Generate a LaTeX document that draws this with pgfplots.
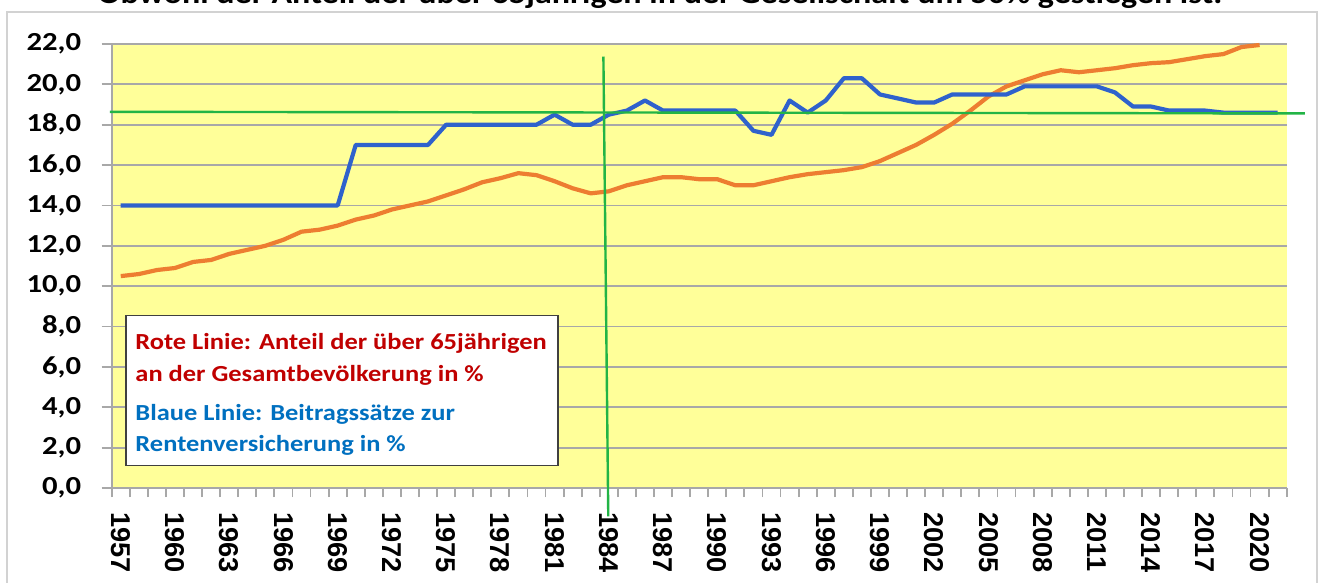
\documentclass[border=0pt]{standalone}
\usepackage{pgfplots}
\pgfplotsset{compat=1.18}
\usepackage{pgfplotstable}
\usepackage{fontspec}
\setmainfont{Carlito}
\newfontfamily\arialfont{Liberation Sans}

\definecolor{bgyellow}{RGB}{255,255,153}
\definecolor{gridgray}{RGB}{168,168,168}
\definecolor{framegray}{RGB}{210,210,210}
\definecolor{orangeline}{RGB}{237,125,49}
\definecolor{blueline}{RGB}{47,98,204}
\definecolor{greenline}{RGB}{34,180,70}
\definecolor{redtext}{RGB}{192,0,0}
\definecolor{bluetext}{RGB}{0,112,192}

\pgfplotstableread{
year val
1957 14.0
1958 14.0
1959 14.0
1960 14.0
1961 14.0
1962 14.0
1963 14.0
1964 14.0
1965 14.0
1966 14.0
1967 14.0
1968 14.0
1969 14.0
1970 17.0
1971 17.0
1972 17.0
1973 17.0
1974 17.0
1975 18.0
1976 18.0
1977 18.0
1978 18.0
1979 18.0
1980 18.0
1981 18.5
1982 18.0
1983 18.0
1984 18.5
1985 18.7
1986 19.2
1987 18.7
1988 18.7
1989 18.7
1990 18.7
1991 18.7
1992 17.7
1993 17.5
1994 19.2
1995 18.6
1996 19.2
1997 20.3
1998 20.3
1999 19.5
2000 19.3
2001 19.1
2002 19.1
2003 19.5
2004 19.5
2005 19.5
2006 19.5
2007 19.9
2008 19.9
2009 19.9
2010 19.9
2011 19.9
2012 19.6
2013 18.9
2014 18.9
2015 18.7
2016 18.7
2017 18.7
2018 18.6
2019 18.6
2020 18.6
2021 18.6
}\bluedata

\pgfplotstableread{
year val
1957 10.5
1958 10.6
1959 10.8
1960 10.9
1961 11.2
1962 11.3
1963 11.6
1964 11.8
1965 12.0
1966 12.3
1967 12.7
1968 12.8
1969 13.0
1970 13.3
1971 13.5
1972 13.8
1973 14.0
1974 14.2
1975 14.5
1976 14.8
1977 15.15
1978 15.35
1979 15.6
1980 15.5
1981 15.2
1982 14.85
1983 14.6
1984 14.7
1985 15.0
1986 15.2
1987 15.4
1988 15.4
1989 15.3
1990 15.3
1991 15.0
1992 15.0
1993 15.2
1994 15.4
1995 15.55
1996 15.65
1997 15.75
1998 15.9
1999 16.2
2000 16.6
2001 17.0
2002 17.5
2003 18.05
2004 18.7
2005 19.4
2006 19.9
2007 20.2
2008 20.5
2009 20.7
2010 20.6
2011 20.7
2012 20.8
2013 20.95
2014 21.05
2015 21.1
2016 21.25
2017 21.4
2018 21.5
2019 21.85
2020 21.95
}\orangedata

\begin{document}
\begin{tikzpicture}
\useasboundingbox (0bp,0bp) rectangle (659.5bp,291.5bp);
\clip (0bp,0bp) rectangle (659.5bp,291.5bp);
\fill[white] (0bp,0bp) rectangle (659.5bp,291.5bp);
\draw[framegray, line width=1bp] (3.35bp,-5bp) rectangle (658.3bp,285.3bp);
\node[anchor=base, inner sep=0pt, xscale=1.15, font=\fontsize{14.8bp}{17bp}\selectfont\bfseries] at (330bp,289.5bp)
  {Obwohl der Anteil der über 65jährigen in der Gesellschaft um 50\% gestiegen ist.};
\begin{axis}[
  at={(55.85bp,47.5bp)}, anchor=south west,
  scale only axis, width=587.5bp, height=222bp,
  xmin=1956.5, xmax=2021.5, ymin=0, ymax=22,
  clip=false,
  axis x line*=bottom, axis y line*=left,
  axis line style={draw=gridgray, line width=1bp},
  axis background/.style={fill=bgyellow},
  ymajorgrids, grid style={draw=gridgray, line width=0.9bp},
  ytick={0,2,4,6,8,10,12,14,16,18,20,22},
  yticklabels={{0,0},{2,0},{4,0},{6,0},{8,0},{10,0},{12,0},{14,0},{16,0},{18,0},{20,0},{22,0}},
  xtick={1957,1960,1963,1966,1969,1972,1975,1978,1981,1984,1987,1990,1993,1996,1999,2002,2005,2008,2011,2014,2017,2020},
  xticklabels={1957,1960,1963,1966,1969,1972,1975,1978,1981,1984,1987,1990,1993,1996,1999,2002,2005,2008,2011,2014,2017,2020},
  minor xtick={1956.5,1957.5,...,2021.5},
  tick align=outside,
  major tick length=5bp, minor tick length=4.5bp,
  major x tick style={draw=none},
  major y tick style={draw=gridgray, line width=0.9bp},
  minor x tick style={draw=gridgray, line width=0.9bp},
  yticklabel style={font=\fontsize{13bp}{15bp}\selectfont\bfseries, anchor=east, inner sep=0pt, xscale=1.18, xshift=-8.5bp},
  xticklabel style={font=\arialfont\fontsize{13.6bp}{16bp}\selectfont\bfseries, inner sep=0pt, yshift=-7bp, rotate=-90, anchor=west},
]
\addplot[orangeline, line width=2.1bp, line join=round, mark=none] table[x=year,y=val]{\orangedata};
\addplot[blueline, line width=2.1bp, line join=round, mark=none] table[x=year,y=val]{\bluedata};
\addplot[greenline, line width=1.2bp, mark=none] coordinates {(1956.4,18.64) (2022.5,18.56)};
\addplot[greenline, line width=1.2bp, mark=none] coordinates {(1983.7,21.38) (1983.97,-1.41)};
\end{axis}
\draw[draw=black!75, fill=white, line width=0.8bp] (63bp,133.65bp) rectangle (279bp,58.65bp);
\begin{scope}[every node/.style={anchor=base west, inner sep=0pt, xscale=1.15, font=\fontsize{11.5bp}{13bp}\selectfont\bfseries}]
\node[text=redtext] at (67.5bp,116.5bp) {Rote Linie: Anteil der über 65jährigen};
\node[text=redtext] at (67.5bp,100.65bp) {an der Gesamtbevölkerung in \%};
\node[text=bluetext] at (67.5bp,81.15bp) {Blaue Linie: Beitragssätze zur};
\node[text=bluetext] at (67.5bp,65.65bp) {Rentenversicherung in \%};
\end{scope}
\end{tikzpicture}
\end{document}
